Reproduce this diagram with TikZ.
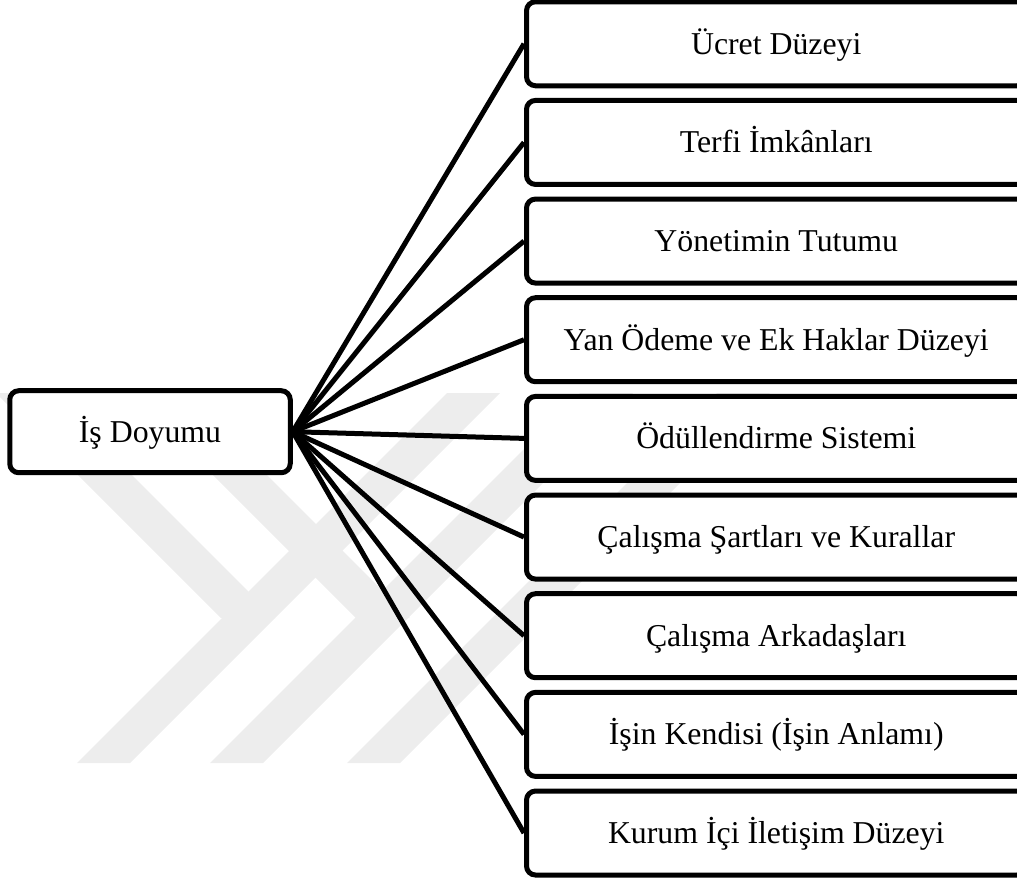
\documentclass[tikz,border=0pt]{standalone}
\usepackage{fontspec}
\setmainfont{Liberation Serif}
\begin{document}
\begin{tikzpicture}[x=1pt,y=-1pt,
  box/.style={draw=black, line width=5pt, rounded corners=9pt, fill=white,
    font=\fontsize{31.8}{36}\selectfont, text height=21pt, text depth=0pt,
    inner sep=0pt, minimum height=84pt, minimum width=499.5pt, align=center},
  rootbox/.style={box, minimum width=280.5pt, minimum height=82pt},
  link/.style={line width=5pt},
  wm/.style={fill=black!7}]
\useasboundingbox (0,0) rectangle (1017,879);
\clip (0,0) rectangle (1017,879);
% watermark
\fill[wm] (-4,393) -- (50,393) -- (275,618) -- (221,618) -- cycle;
\fill[wm] (77,763) -- (130,763) -- (500,393) -- (447,393) -- cycle;
\fill[wm] (131,393) -- (185,393) -- (410,618) -- (356,618) -- cycle;
\fill[wm] (210,763) -- (263,763) -- (633,393) -- (580,393) -- cycle;
\fill[wm] (347,763) -- (400,763) -- (770,393) -- (717,393) -- cycle;
% nodes
\node[rootbox] (root) at (150,431.7) {İş Doyumu};
\node[box] (r1) at (776.25,43.75) {Ücret Düzeyi};
\node[box] (r2) at (776.25,142.41) {Terfi İmkânları};
\node[box] (r3) at (776.25,241.07) {Yönetimin Tutumu};
\node[box] (r4) at (776.25,339.73) {Yan Ödeme ve Ek Haklar Düzeyi};
\node[box] (r5) at (776.25,438.39) {Ödüllendirme Sistemi};
\node[box] (r6) at (776.25,537.05) {Çalışma Şartları ve Kurallar};
\node[box] (r7) at (776.25,635.71) {Çalışma Arkadaşları};
\node[box] (r8) at (776.25,734.37) {İşin Kendisi (İşin Anlamı)};
\node[box] (r9) at (776.25,833.03) {Kurum İçi İletişim Düzeyi};
% connectors
\foreach \i in {1,...,9}{
  \draw[link] (root.east) -- (r\i.west);
}
\end{tikzpicture}
\end{document}
